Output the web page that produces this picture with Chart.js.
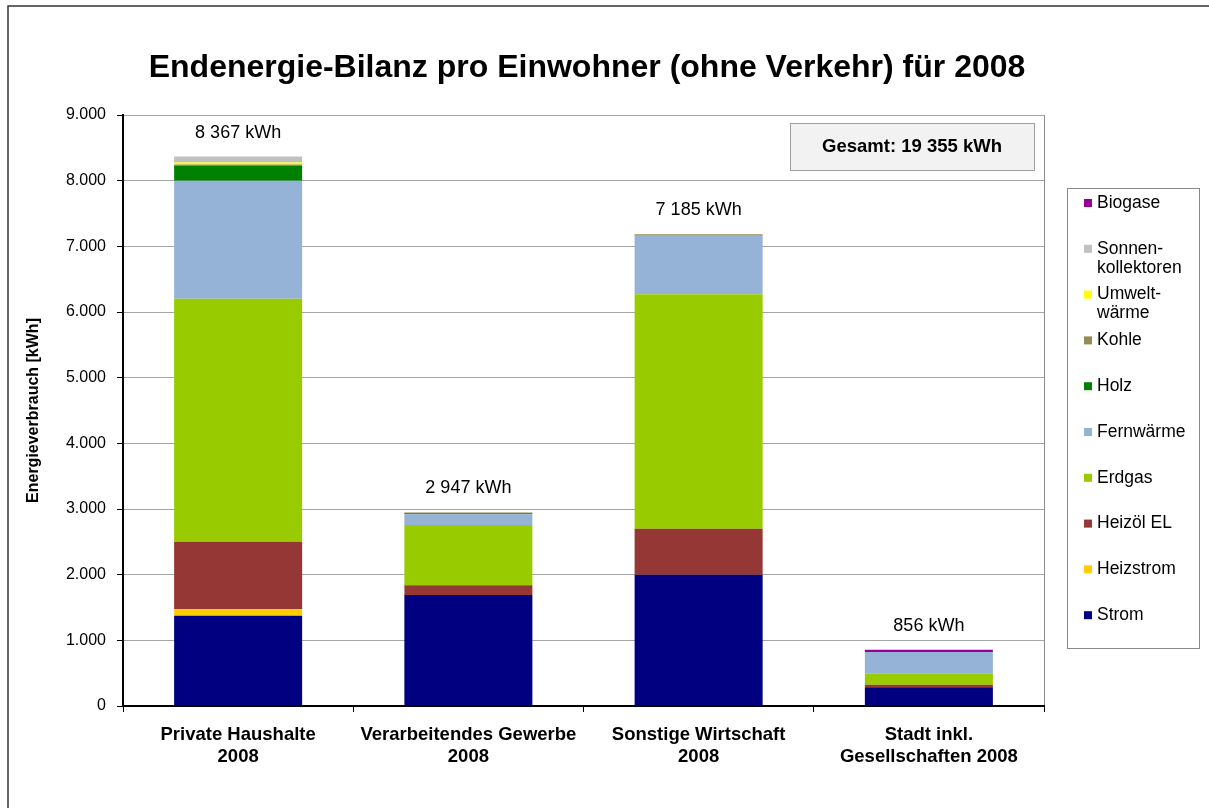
<!DOCTYPE html>
<html>
<head>
<meta charset="utf-8">
<script src="https://cdn.jsdelivr.net/npm/chart.js@4"></script>
<style>
  html, body { margin: 0; padding: 0; background: #fff; }
  canvas { display: block; }
</style>
</head>
<body>
<canvas id="chart" width="1209" height="808"></canvas>
<script>
// Endenergie-Bilanz pro Einwohner 2008 - stacked bars

const categories = [
    ['Private Haushalte', '2008'],
    ['Verarbeitendes Gewerbe', '2008'],
    ['Sonstige Wirtschaft', '2008'],
    ['Stadt inkl.', 'Gesellschaften 2008']
];

// values in kWh per inhabitant, bottom to top of each bar
const strom      = [1375, 1690, 2000, 285];
const heizstrom  = [100, 0, 0, 0];
const heizoel    = [1025, 150, 700, 40];
const erdgas     = [3700, 915, 3570, 165];
const fernwaerme = [1800, 165, 895, 331];
const holz       = [230, 17, 8, 0];
const kohle      = [15, 10, 12, 0];
const umwelt     = [30, 0, 0, 0];
const sonnen     = [92, 0, 0, 0];
const biogase    = [0, 0, 0, 35];

const yTicks = [0, 1000, 2000, 3000, 4000, 5000, 6000, 7000, 8000, 9000];

const FONT = "'Liberation Sans', Arial, sans-serif";

const series = [
    { label: 'Strom', data: strom, color: '#000080' },
    { label: 'Heizstrom', data: heizstrom, color: '#ffcc00' },
    { label: 'Heizöl EL', data: heizoel, color: '#953735' },
    { label: 'Erdgas', data: erdgas, color: '#99cc00' },
    { label: 'Fernwärme', data: fernwaerme, color: '#95b3d7' },
    { label: 'Holz', data: holz, color: '#008000' },
    { label: 'Kohle', data: kohle, color: '#948a54' },
    { label: 'Umwelt-\nwärme', data: umwelt, color: '#ffff00' },
    { label: 'Sonnen-\nkollektoren', data: sonnen, color: '#c0c0c0' },
    { label: 'Biogase', data: biogase, color: '#990099' }
];

function fmtSpace(n) {
    return String(n).replace(/\B(?=(\d{3})+(?!\d))/g, ' ');
}
function fmtDot(n) {
    return String(n).replace(/\B(?=(\d{3})+(?!\d))/g, '.');
}

const decorations = {
    id: 'decorations',
    beforeDraw(chart) {
        const ctx = chart.ctx;
        const a = chart.chartArea;
        ctx.save();
        // outer frame
        ctx.strokeStyle = '#333';
        ctx.lineWidth = 1.5;
        ctx.strokeRect(8, 6, 1400, 1000);
        // plot area outline
        ctx.strokeStyle = '#8c8c8c';
        ctx.lineWidth = 1;
        ctx.strokeRect(a.left + 0.5, a.top + 0.5, a.right - a.left, a.bottom - a.top);
        // title
        ctx.fillStyle = '#000';
        ctx.font = 'bold 32px ' + FONT;
        ctx.textAlign = 'center';
        ctx.textBaseline = 'middle';
        ctx.fillText('Endenergie-Bilanz pro Einwohner (ohne Verkehr) für 2008', 587, 68);
        ctx.restore();
    },
    afterDatasetsDraw(chart) {
        const ctx = chart.ctx;
        const xs = chart.scales.x;
        const ys = chart.scales.y;
        ctx.save();
        ctx.fillStyle = '#000';
        ctx.textAlign = 'center';
        ctx.textBaseline = 'middle';

        // totals above the bars
        ctx.font = '18px ' + FONT;
        let grand = 0;
        categories.forEach((c, i) => {
            const total = series.reduce((s, d) => s + d.data[i], 0);
            grand += total;
            ctx.fillText(fmtSpace(total) + ' kWh', xs.getPixelForValue(i), ys.getPixelForValue(total) - 24);
        });

        // grand total box
        ctx.fillStyle = '#f2f2f2';
        ctx.fillRect(790, 123, 244, 47);
        ctx.strokeStyle = '#a0a0a0';
        ctx.lineWidth = 1;
        ctx.strokeRect(790.5, 123.5, 244, 47);
        ctx.fillStyle = '#000';
        ctx.font = 'bold 18.5px ' + FONT;
        ctx.fillText('Gesamt: ' + fmtSpace(grand) + ' kWh', 912, 147);

        // legend
        ctx.fillStyle = '#fff';
        ctx.fillRect(1067, 188, 132, 460);
        ctx.strokeStyle = '#888';
        ctx.strokeRect(1067.5, 188.5, 132, 460);
        ctx.font = '17.5px ' + FONT;
        ctx.textAlign = 'left';
        series.slice().reverse().forEach((s, i) => {
            const y = 203 + i * 45.8;
            ctx.fillStyle = s.color;
            ctx.fillRect(1084, y - 4, 8, 8);
            ctx.fillStyle = '#000';
            s.label.split('\n').forEach((line, j) => {
                ctx.fillText(line, 1097, y + j * 19);
            });
        });
        ctx.restore();
    }
};

new Chart(document.getElementById('chart'), {
    type: 'bar',
    data: {
        labels: categories,
        datasets: series.map(s => ({
            label: s.label,
            data: s.data,
            backgroundColor: s.color,
            borderWidth: 0,
            barPercentage: 0.556,
            categoryPercentage: 1
        }))
    },
    options: {
        responsive: false,
        animation: false,
        layout: { padding: { top: 115, left: 0, right: 165, bottom: 0 } },
        plugins: {
            legend: { display: false },
            title: { display: false },
            tooltip: { enabled: false }
        },
        scales: {
            x: {
                stacked: true,
                afterFit(scale) { scale.height = 102; },
                grid: {
                    offset: true,
                    drawOnChartArea: false,
                    drawTicks: true,
                    tickLength: 6,
                    tickColor: '#000'
                },
                border: { color: '#000', width: 2 },
                ticks: {
                    color: '#000',
                    padding: 12,
                    maxRotation: 0,
                    autoSkip: false,
                    font: { family: FONT, size: 18.5, weight: 'bold', lineHeight: '22px' }
                }
            },
            y: {
                stacked: true,
                min: 0,
                max: 9000,
                afterFit(scale) { scale.width = 123; },
                afterBuildTicks(scale) { scale.ticks = yTicks.map(v => ({ value: v })); },
                grid: {
                    color: '#a6a6a6',
                    lineWidth: 1,
                    tickColor: '#000',
                    tickLength: 6
                },
                border: { color: '#000', width: 2 },
                ticks: {
                    color: '#000',
                    padding: 11,
                    font: { family: FONT, size: 16 },
                    callback: v => fmtDot(v)
                },
                title: {
                    display: true,
                    text: 'Energieverbrauch [kWh]',
                    color: '#000',
                    padding: { top: 24 },
                    font: { family: FONT, size: 16, weight: 'bold' }
                }
            }
        }
    },
    plugins: [decorations]
});
</script>
</body>
</html>
